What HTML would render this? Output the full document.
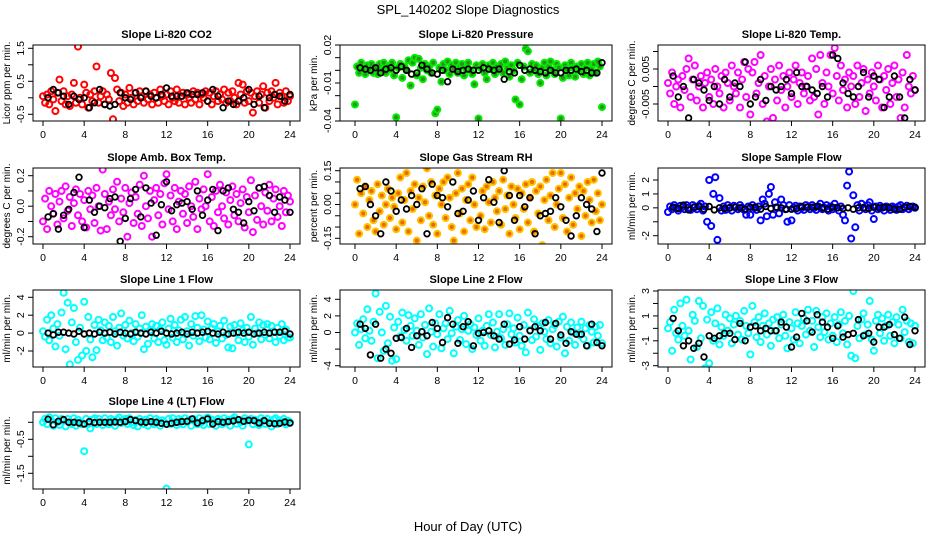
<!DOCTYPE html>
<html><head><meta charset="utf-8"><style>
html,body{margin:0;padding:0;background:#fff;}
svg{display:block;font-family:"Liberation Sans",Arial,sans-serif;}
</style></head><body>
<svg id="c" width="936" height="540" viewBox="0 0 936 540" xmlns="http://www.w3.org/2000/svg">
<text x="468" y="14" text-anchor="middle" font-size="13">SPL_140202  Slope Diagnostics</text>
<text x="468" y="531" text-anchor="middle" font-size="13">Hour of Day (UTC)</text>
</svg>
<script>
const hours=[0,0.2,0.4,0.6,0.8,1,1.2,1.4,1.6,1.8,2,2.2,2.4,2.6,2.8,3,3.2,3.4,3.6,3.8,4,4.2,4.4,4.6,4.8,5,5.2,5.4,5.6,5.8,6,6.2,6.4,6.6,6.8,7,7.2,7.4,7.6,7.8,8,8.2,8.4,8.6,8.8,9,9.2,9.4,9.6,9.8,10,10.2,10.4,10.6,10.8,11,11.2,11.4,11.6,11.8,12,12.2,12.4,12.6,12.8,13,13.2,13.4,13.6,13.8,14,14.2,14.4,14.6,14.8,15,15.2,15.4,15.6,15.8,16,16.2,16.4,16.6,16.8,17,17.2,17.4,17.6,17.8,18,18.2,18.4,18.6,18.8,19,19.2,19.4,19.6,19.8,20,20.2,20.4,20.6,20.8,21,21.2,21.4,21.6,21.8,22,22.2,22.4,22.6,22.8,23,23.2,23.4,23.6,23.8,24];
const hoursBlack=[0.5,1,1.5,2,2.5,3,3.5,4,4.5,5,5.5,6,6.5,7,7.5,8,8.5,9,9.5,10,10.5,11,11.5,12,12.5,13,13.5,14,14.5,15,15.5,16,16.5,17,17.5,18,18.5,19,19.5,20,20.5,21,21.5,22,22.5,23,23.5,24];
const xTicks=[0,4,8,12,16,20,24];
const titles=["Slope Li-820 CO2","Slope Li-820 Pressure","Slope Li-820 Temp.","Slope Amb. Box Temp.","Slope Gas Stream RH","Slope Sample Flow","Slope Line 1 Flow","Slope Line 2 Flow","Slope Line 3 Flow","Slope Line 4 (LT) Flow"];
const yTitles=["Licor ppm per min.","kPa per min.","degrees C per min.","degrees C per min.","percent per min.","ml/min per min.","ml/min per min.","ml/min per min.","ml/min per min.","ml/min per min."];
const colors=["#ff0000","#00ee00","#ff00ff","#ff00ff","#ffc000","#0000ff","#00ffff","#00ffff","#00ffff","#00ffff"];
const fills=["none","#2f8f1f","none","none","#e86a00","none","none","none","none","none"];
const yTicks=[[-0.5,0,0.5,1,1.5],[-0.04,-0.03,-0.02,-0.01,0,0.01,0.02],[-0.005,0,0.005,0.01],[-0.2,-0.1,0,0.1,0.2],[-0.15,-0.1,-0.05,0,0.05,0.1,0.15],[-2,-1,0,1,2],[-2,0,2,4],[-4,-2,0,2,4],[-3,-2,-1,0,1,2,3],[-1.5,-1,-0.5,0]];
const yLabels=[["-0.5","","0.5","","1.5"],["-0.04","","","-0.01","","","0.02"],["-0.005","","0.005",""],["-0.2","","0.0","","0.2"],["-0.15","","","0.00","","","0.15"],["-2","","0","1","2"],["-2","0","2","4"],["-4","","0","2","4"],["-3","","-1","","1","","3"],["-1.5","","-0.5",""]];
const co2=[0.05,-0.15,0.1,-0.2,0.2,-0.05,-0.4,0.15,0.55,-0.1,0.2,-0.2,0.05,-0.25,0.1,0.45,-0.15,1.55,0.0,-0.2,0.4,0.15,-0.3,0.1,-0.1,0.2,0.95,-0.15,0.05,0.2,-0.2,0.1,-0.05,0.75,-0.65,0.6,0.25,-0.1,0.15,-0.25,0.1,-0.15,0.3,0.0,-0.2,0.15,-0.1,0.2,0.05,-0.15,0.2,-0.05,0.1,-0.2,0.15,0.0,-0.15,0.25,0.05,-0.1,0.1,-0.2,0.2,0.0,-0.1,0.25,-0.15,0.05,0.15,-0.2,0.1,0.0,-0.15,0.2,-0.05,0.15,-0.2,0.1,0.0,0.2,-0.1,0.15,-0.2,0.05,0.2,-0.1,0.1,-0.05,0.25,-0.15,0.15,-0.1,0.2,0.0,-0.2,0.45,0.1,0.4,-0.15,0.2,-0.1,0.15,-0.45,0.05,0.2,-0.15,0.1,0.35,-0.3,0.15,-0.1,0.2,0.0,0.45,-0.2,0.15,0.05,-0.15,0.2,-0.1,0.05];
const co2Black=[0.0,0.25,0.15,0.05,-0.2,0.05,-0.05,0.0,-0.3,-0.15,0.25,-0.2,-0.25,-0.2,0.15,0.0,-0.05,0.15,0.0,0.2,0.05,0.0,0.1,0.3,0.05,0.05,0.05,0.15,0.1,0.1,0.15,-0.1,0.25,0.05,-0.3,-0.1,-0.2,-0.1,0.0,0.25,-0.2,0.05,-0.3,0.0,0.1,0.05,-0.1,0.1];
const pressure=[-0.027,0.003,-0.002,0.006,0.001,-0.003,0.004,0.0,0.005,-0.002,0.002,-0.003,0.005,0.0,0.006,-0.002,0.003,0.001,0.006,-0.004,-0.037,0.002,0.005,-0.006,0.003,0.0,0.008,-0.012,0.006,0.01,-0.004,0.009,0.002,-0.007,0.005,0.0,0.003,-0.002,0.006,-0.034,-0.031,0.002,-0.009,0.005,0.0,0.007,-0.003,0.004,0.001,0.006,-0.002,0.003,0.005,-0.004,0.001,0.006,0.0,-0.003,-0.011,0.004,-0.038,0.002,0.005,-0.002,-0.007,0.004,0.001,0.006,-0.003,0.003,0.0,0.005,-0.002,0.007,0.002,-0.005,0.004,0.0,-0.023,0.006,-0.027,-0.007,0.003,0.017,0.015,-0.002,0.005,0.001,0.004,-0.003,-0.01,0.002,0.006,-0.004,0.003,0.007,0.0,-0.003,0.005,0.002,-0.038,-0.006,0.004,0.001,-0.004,0.006,0.002,-0.005,0.003,0.0,0.005,-0.003,0.002,0.006,-0.004,0.001,0.005,-0.002,0.007,0.003,-0.029];
const pressureBlack=[0.002,0.001,0.0,0.002,-0.002,0.001,0.002,0.0,0.003,0.0,-0.003,-0.002,0.004,0.001,-0.002,-0.003,0.0,-0.009,0.001,-0.001,0.0,0.001,0.0,0.0,0.002,0.001,0.0,0.001,-0.007,-0.001,-0.002,0.004,0.0,0.001,0.0,-0.001,-0.002,0.0,-0.002,-0.002,0.0,0.0,0.001,-0.001,0.0,-0.002,-0.002,0.006];
const licorTemp=[0.001,-0.002,0.004,-0.005,0.0,0.002,-0.006,0.003,-0.001,0.005,0.008,-0.003,0.002,0.006,-0.004,0.0,0.003,-0.006,0.001,0.004,-0.003,0.002,-0.005,0.005,0.0,-0.002,0.003,-0.006,0.004,0.001,-0.004,0.006,0.0,-0.002,0.004,-0.006,0.002,0.007,-0.003,0.005,-0.008,0.004,0.007,-0.002,0.001,0.009,-0.005,0.003,-0.01,0.0,0.005,-0.009,0.002,-0.004,0.006,-0.001,0.003,-0.006,0.0,0.004,-0.003,0.002,0.006,-0.005,0.001,0.004,-0.002,0.0,0.003,-0.004,0.008,-0.003,0.005,-0.008,0.009,0.001,-0.005,0.004,0.0,0.009,-0.002,0.011,0.003,-0.004,0.006,-0.001,0.002,-0.006,0.004,0.0,0.003,-0.005,0.006,-0.003,0.001,0.005,-0.007,0.002,-0.002,0.004,0.0,-0.004,0.006,0.002,-0.006,0.003,-0.001,0.005,-0.005,0.001,0.006,-0.003,0.002,-0.009,0.004,-0.006,0.009,0.0,-0.002,0.003,-0.001];
const licorTempBlack=[0.003,-0.003,0.0,-0.009,0.002,0.001,-0.001,-0.004,0.0,-0.005,0.002,-0.003,0.001,0.0,0.007,-0.005,-0.003,0.002,-0.004,0.0,-0.001,0.0,0.002,-0.002,0.004,0.0,0.0,-0.001,-0.002,0.0,-0.003,0.009,0.008,0.001,-0.002,-0.003,0.0,0.004,-0.003,0.003,0.002,-0.006,-0.003,0.003,-0.003,-0.009,0.002,-0.001];
const ambTemp=[-0.1,0.05,-0.15,0.1,0.0,-0.05,0.08,-0.12,0.03,0.1,-0.08,0.13,-0.03,0.06,-0.13,0.02,0.11,-0.06,0.08,-0.1,0.04,-0.14,0.1,-0.02,0.07,-0.11,0.12,0.0,-0.16,0.24,0.08,-0.15,0.03,-0.06,0.11,-0.02,0.16,-0.1,0.05,-0.04,0.12,-0.2,0.02,0.09,-0.11,0.06,-0.05,0.14,-0.13,0.2,0.0,-0.08,0.1,-0.2,0.04,0.12,-0.06,0.08,-0.12,0.15,0.21,-0.02,0.07,-0.1,0.12,-0.15,0.03,0.1,-0.05,0.08,-0.11,0.13,0.0,-0.07,0.16,-0.15,0.05,-0.02,0.11,0.0,0.21,-0.1,0.06,-0.13,0.1,-0.04,0.14,0.0,-0.08,0.09,-0.12,0.04,0.13,-0.06,0.08,-0.1,0.02,0.11,-0.14,0.06,-0.04,0.17,-0.17,0.07,-0.09,0.12,0.0,-0.12,0.09,-0.03,0.14,-0.1,0.05,0.11,-0.07,0.0,-0.13,0.1,-0.04,0.07,0.03];
const ambTempBlack=[-0.07,-0.05,-0.15,-0.06,-0.02,0.09,0.19,-0.14,0.04,-0.04,0.0,-0.01,0.05,0.06,-0.23,-0.08,0.05,0.11,-0.07,0.12,0.02,-0.19,0.01,0.16,-0.03,0.01,0.02,0.03,-0.02,0.1,-0.06,0.04,0.11,-0.16,0.1,0.12,-0.02,-0.04,-0.11,0.03,-0.03,0.12,0.13,0.07,-0.04,0.06,0.04,-0.04];
const rh=[0.0,0.11,-0.13,0.05,-0.04,0.08,-0.1,0.02,0.06,-0.07,-0.12,0.09,-0.03,0.04,-0.09,0.0,0.07,-0.06,0.03,-0.01,-0.11,0.05,0.12,-0.08,0.02,0.14,-0.12,0.06,-0.02,0.09,-0.16,0.03,-0.07,0.08,0.01,0.16,-0.05,0.1,-0.09,0.04,-0.13,0.07,0.0,0.1,-0.06,0.12,0.03,-0.1,-0.16,0.05,0.14,-0.04,0.07,-0.12,0.02,0.09,-0.07,0.12,0.0,-0.1,0.19,-0.05,0.06,-0.11,0.08,0.01,-0.08,0.1,0.03,-0.03,0.06,-0.09,0.11,-0.02,0.04,-0.13,0.08,0.0,-0.06,0.07,-0.11,0.05,-0.02,0.09,-0.08,0.03,0.1,-0.12,0.06,-0.04,0.08,-0.18,0.02,0.11,-0.07,0.04,0.14,-0.1,0.0,0.07,0.14,-0.06,0.09,-0.12,0.03,0.12,-0.09,0.05,-0.02,0.08,-0.14,0.06,-0.05,0.1,0.02,-0.08,0.11,-0.03,0.05,-0.07,0.0];
const rhBlack=[0.07,0.08,0.0,-0.05,-0.13,0.1,0.06,-0.03,0.02,-0.02,0.04,0.0,0.07,-0.13,0.09,0.04,0.03,-0.01,0.1,-0.04,-0.03,0.02,0.06,-0.07,0.03,0.11,0.01,-0.08,0.15,0.04,-0.07,0.04,-0.01,0.03,-0.13,-0.05,-0.04,-0.03,0.03,-0.01,-0.07,-0.14,-0.05,0.03,0.0,-0.02,-0.12,0.14];
const sampleFlow=[-0.3,0.1,-0.1,0.2,0.0,-0.2,0.15,0.05,-0.1,0.2,0.0,-0.15,0.2,0.05,-0.1,0.15,0.3,-0.2,0.1,-1.0,2.0,-1.3,1.0,2.2,-2.3,0.7,-0.2,0.1,-0.15,0.2,0.0,-0.2,0.15,0.05,-0.1,0.2,0.0,-0.15,-0.5,0.1,-0.5,0.2,0.0,-0.15,0.1,-0.9,0.6,0.3,-0.6,1.0,1.5,-0.5,0.4,0.0,-0.4,0.6,0.2,-0.1,-1.0,0.2,-0.9,0.0,0.15,-0.2,0.1,0.0,-0.15,0.2,0.05,-0.1,0.2,0.0,-0.15,0.1,0.3,-0.1,0.0,0.2,-0.2,0.1,-0.1,0.3,0.0,-0.2,0.1,-0.5,-0.9,1.6,2.6,-2.2,0.9,-1.4,0.2,-0.2,0.3,0.0,-0.1,0.2,0.4,-0.2,-0.8,0.1,-0.1,0.15,0.0,-0.2,0.1,0.05,-0.15,0.1,0.0,-0.15,0.1,0.2,-0.1,0.0,0.15,-0.1,0.05,0.1,0.0];
const sampleFlowBlack=[0.05,-0.05,0.2,-0.15,0.05,0.1,-0.1,0.1,-0.15,0.0,-0.05,0.0,0.05,0.0,-0.1,0.05,0.05,-0.1,0.1,-0.05,0.05,0.0,-0.1,-0.1,-0.05,0.1,0.05,0.05,0.1,0.0,-0.1,0.05,0.0,-0.05,0.0,-0.1,0.0,0.0,-0.05,0.05,0.0,0.05,0.0,-0.1,-0.1,0.05,0.1,0.05];
const line1=[0.2,-0.4,1.5,-0.8,2.0,0.5,-1.5,1.0,-0.3,2.3,4.5,-1.8,3.4,-3.5,1.2,2.8,-1.0,-3.0,0.6,-2.5,3.5,-2.0,1.8,-0.7,-2.7,0.9,-1.9,1.5,0.3,-0.8,1.2,-0.5,0.8,-1.0,1.8,0.2,-1.4,0.6,2.2,-0.3,0.9,-0.6,1.4,0.0,-0.9,1.0,-0.4,0.5,2.0,-1.8,0.7,-1.2,0.3,1.0,-0.6,0.8,-1.0,0.4,1.2,-0.8,-1.3,0.5,1.6,-0.5,0.9,-1.0,0.3,1.5,-0.7,1.8,0.2,-1.4,1.0,-0.3,1.9,0.6,-0.9,2.0,0.4,-0.5,1.3,-0.7,0.5,1.0,-1.1,0.2,0.8,-0.6,1.4,-0.2,-1.6,0.7,-1.7,0.9,0.0,-0.8,1.1,0.3,-1.0,0.6,-0.4,1.8,-1.3,0.5,0.0,1.2,-0.7,0.9,-0.2,1.0,-0.6,0.8,0.2,-1.0,0.6,-0.3,1.0,-0.8,0.4,-0.5,-0.5];
const line1Black=[0.0,-0.2,0.1,0.1,0.0,-0.1,0.2,-0.1,0.0,-0.1,0.1,0.0,0.1,-0.1,0.1,0.0,-0.1,0.1,0.0,-0.1,0.1,0.0,0.2,0.0,-0.1,0.0,0.1,-0.1,0.1,0.0,0.1,0.2,0.0,-0.1,0.1,-0.1,0.0,0.1,0.0,0.1,-0.1,0.0,0.1,0.0,0.1,0.1,0.2,-0.1];
const line2=[0.0,1.1,-1.5,0.4,1.6,-0.7,2.8,0.2,-1.0,1.3,4.7,-3.1,2.5,0.0,-2.2,3.2,-1.3,1.9,-3.4,0.6,-3.2,1.3,-0.5,2.4,0.3,-1.0,2.1,0.8,-0.4,1.7,0.2,-1.5,2.2,-0.6,0.9,-2.6,2.9,0.1,-1.7,1.1,-0.2,2.2,-1.9,0.5,1.1,-0.8,2.6,-0.1,-2.5,0.7,1.5,-0.9,0.4,2.0,-1.4,0.2,1.0,-2.0,0.6,-0.3,1.7,-1.0,0.2,-1.6,0.8,2.2,-0.3,1.2,-1.8,0.1,2.2,-0.7,0.4,-1.5,1.0,2.3,-0.2,0.5,-1.2,1.8,-0.4,-1.6,0.9,-2.4,2.4,0.3,-0.9,1.6,-0.5,0.8,-2.1,1.1,0.1,-0.8,1.5,-1.3,0.4,0.9,-1.7,1.3,-0.6,1.9,-2.5,0.7,-1.0,1.2,0.0,-1.5,0.6,-0.3,1.3,-0.8,0.5,-1.6,0.9,0.1,-1.2,0.7,-0.4,0.9,-1.3];
const line2Black=[1.0,0.5,-2.7,1.0,-3.1,-2.0,-2.5,-0.7,-0.6,0.5,-1.8,-0.4,0.1,-0.4,1.2,0.5,-1.2,1.8,1.0,-1.3,0.7,1.3,-1.6,-0.1,0.0,0.2,-0.4,-0.8,1.0,-1.4,-0.9,0.7,-0.8,0.2,0.7,0.2,1.2,-0.8,1.1,-0.3,-1.3,0.1,-0.2,-0.2,-1.6,1.0,-1.2,-1.6];
const line3=[0.0,0.5,-1.8,1.5,-0.4,-0.9,2.0,0.2,-0.6,2.3,-0.2,-2.5,1.1,0.6,-1.5,2.2,-0.8,1.8,-3.2,0.7,-2.8,1.3,-1.0,0.4,1.6,-1.3,0.1,-0.6,1.1,-0.2,0.8,-1.2,0.3,1.0,-0.5,0.6,-0.9,1.4,0.2,-0.4,-2.1,1.8,0.5,-0.7,0.9,-1.1,0.2,1.2,-0.5,0.4,-1.4,0.7,-0.2,0.9,-0.8,0.3,1.1,-0.6,-1.6,0.5,0.0,-0.9,1.3,0.4,-1.2,0.2,0.8,-0.5,1.5,-0.2,0.6,-1.5,1.4,0.1,-0.7,0.9,-0.3,1.2,-0.9,0.4,-0.6,0.9,-1.1,0.3,1.3,-0.4,0.6,-1.3,1.0,-2.2,3.0,-2.4,0.2,-0.8,0.7,1.2,-0.5,0.3,2.2,-0.9,-1.8,0.6,1.1,-0.4,0.8,-1.0,0.2,1.1,-0.6,0.5,-1.2,0.9,0.3,-0.8,1.5,-0.3,0.6,-1.1,0.4,-1.2,0.2];
const line3Black=[0.8,-0.2,-1.4,-1.0,-1.6,-1.2,-2.3,-0.6,-0.8,-0.6,-0.4,-0.4,-0.9,0.4,-1.0,0.1,0.2,-0.2,0.0,-0.2,-0.2,0.5,0.1,-1.5,-0.7,1.2,0.6,-0.3,1.1,0.5,0.1,-0.8,0.2,-0.7,-0.5,-0.4,0.7,-0.6,-0.4,-1.1,0.1,0.1,0.3,-0.5,-0.8,0.9,-1.3,-0.2];
const line4=[0.0,0.1,-0.05,0.15,0.05,-0.1,0.12,0.0,-0.08,0.1,0.05,-0.12,0.1,0.0,-0.05,0.12,-0.1,0.08,0.0,-0.06,-0.85,0.1,-0.05,-0.18,0.08,0.12,-0.05,0.1,0.0,-0.08,0.12,0.0,-0.06,0.1,0.05,-0.1,0.08,0.14,-0.02,0.06,0.1,-0.05,0.12,0.0,-0.08,0.07,-0.12,0.1,0.02,-0.05,0.08,-0.1,0.12,0.0,-0.06,0.1,0.04,-0.1,0.06,0.0,-1.95,0.1,-0.05,0.12,0.0,-0.08,0.1,0.05,-0.06,0.12,0.0,0.08,-0.1,0.1,0.05,-0.06,0.12,0.0,-0.08,0.1,0.14,-0.05,0.08,0.0,-0.1,0.1,0.05,-0.06,0.12,0.0,0.08,-0.1,0.1,0.15,-0.04,0.06,0.0,-0.1,0.12,0.05,-0.65,0.1,-0.06,0.08,0.0,-0.08,0.12,0.05,-0.05,0.1,0.0,-0.12,0.08,0.12,-0.05,0.06,0.0,0.1,-0.06,0.05,0.0];
const line4Black=[0.09,-0.07,0.03,0.08,0.0,0.0,-0.02,-0.05,0.02,-0.01,0.0,0.0,0.0,0.01,0.0,0.02,0.08,0.05,0.01,0.0,0.02,0.0,-0.03,-0.06,-0.03,0.0,0.02,0.03,0.1,-0.02,0.05,0.1,-0.05,0.02,0.0,0.02,0.04,0.08,0.03,0.06,0.05,-0.02,0.05,-0.03,-0.04,-0.03,0.01,-0.02];
const seriesColored=[co2,pressure,licorTemp,ambTemp,rh,sampleFlow,line1,line2,line3,line4];
const seriesBlack=[co2Black,pressureBlack,licorTempBlack,ambTempBlack,rhBlack,sampleFlowBlack,line1Black,line2Black,line3Black,line4Black];

// layout (pixel geometry, not data)
const cols=[{l:33,r:300,x0:43,x24:290},{l:340,r:612,x0:355,x24:602},{l:658,r:925,x0:668,x24:915}];
const rows=[{t:45,b:121},{t:168,b:244},{t:290,b:367},{t:412,b:489}];
const yCal=[[1.5,48.3,-0.5,114.3],[0.02,45,-0.04,121],[0.005,69,-0.005,104],[0.2,175.7,-0.2,236.7],[0.15,170.7,-0.15,238.3],[2,180,-2,235.7],[4,297.3,-2,351],[4,299.3,-4,365.7],[3,291,-3,365.7],[0,422.3,-0.5,439.3]];
const NS="http://www.w3.org/2000/svg";
const svg=document.getElementById('c');
function mk(tag,attrs,parent){const e=document.createElementNS(NS,tag);for(const k in attrs)e.setAttribute(k,attrs[k]);(parent||svg).appendChild(e);return e;}
for(let p=0;p<10;p++){
  const c=cols[p%3], r=rows[Math.floor(p/3)], cal=yCal[p];
  const xs=h=>c.x0+(h/24)*(c.x24-c.x0);
  const ys=v=>cal[1]+(v-cal[0])*(cal[3]-cal[1])/(cal[2]-cal[0]);
  const g=mk('g',{});
  
  
  const cp=mk('clipPath',{id:'cp'+p},g);
  mk('rect',{x:c.l,y:r.t,width:c.r-c.l,height:r.b-r.t},cp);
  const pts=mk('g',{'clip-path':'url(#cp'+p+')'},g);
  
  
  const vals=seriesColored[p];
  for(let i=0;i<Math.min(vals.length,hours.length);i++){
    const el=mk('circle',{cx:xs(hours[i]).toFixed(1),cy:ys(vals[i]).toFixed(1),r:3,fill:fills[p],stroke:colors[p],'stroke-width':2},pts);
    
    
  }
  const bv=seriesBlack[p];
  for(let i=0;i<Math.min(bv.length,hoursBlack.length);i++){
    const el=mk('circle',{cx:xs(hoursBlack[i]).toFixed(1),cy:ys(bv[i]).toFixed(1),r:2.8,fill:'none',stroke:'#000','stroke-width':1.8},pts);
    
    
  }
  const box=mk('rect',{x:c.l,y:r.t,width:c.r-c.l,height:r.b-r.t,fill:'none',stroke:'#000','stroke-width':1},g);
  
  
  const t=mk('text',{x:(c.l+c.r)/2,y:r.t-7,'text-anchor':'middle','font-size':11,'font-weight':'bold'},g);
  t.textContent=titles[p];
  
  
  mk('line',{x1:xs(0),x2:xs(24),y1:r.b,y2:r.b,stroke:'#000'},g);
  xTicks.forEach(v=>{
    const x=xs(v);
    mk('line',{x1:x,x2:x,y1:r.b,y2:r.b+5,stroke:'#000'},g);
    const tl=mk('text',{x:x,y:r.b+17,'text-anchor':'middle','font-size':10.5},g);
    tl.textContent=v;
    
    
  });
  const tk=yTicks[p];
  mk('line',{x1:c.l,x2:c.l,y1:ys(tk[0]),y2:ys(tk[tk.length-1]),stroke:'#000'},g);
  tk.forEach((v,i)=>{
    const y=ys(v);
    mk('line',{x1:c.l-5,x2:c.l,y1:y,y2:y,stroke:'#000'},g);
    const lab=yLabels[p][i];
    if(lab){
      const tl=mk('text',{x:0,y:0,'text-anchor':'middle','font-size':10.5,transform:'translate('+(c.l-9)+','+y+') rotate(-90)'},g);
      tl.textContent=lab;
      
      
    }
  });
  const yt=mk('text',{x:0,y:0,'text-anchor':'middle','font-size':10,transform:'translate('+(c.l-23)+','+((r.t+r.b)/2)+') rotate(-90)'},g);
  yt.textContent=yTitles[p];
  
  
}
</script>
</body></html>
